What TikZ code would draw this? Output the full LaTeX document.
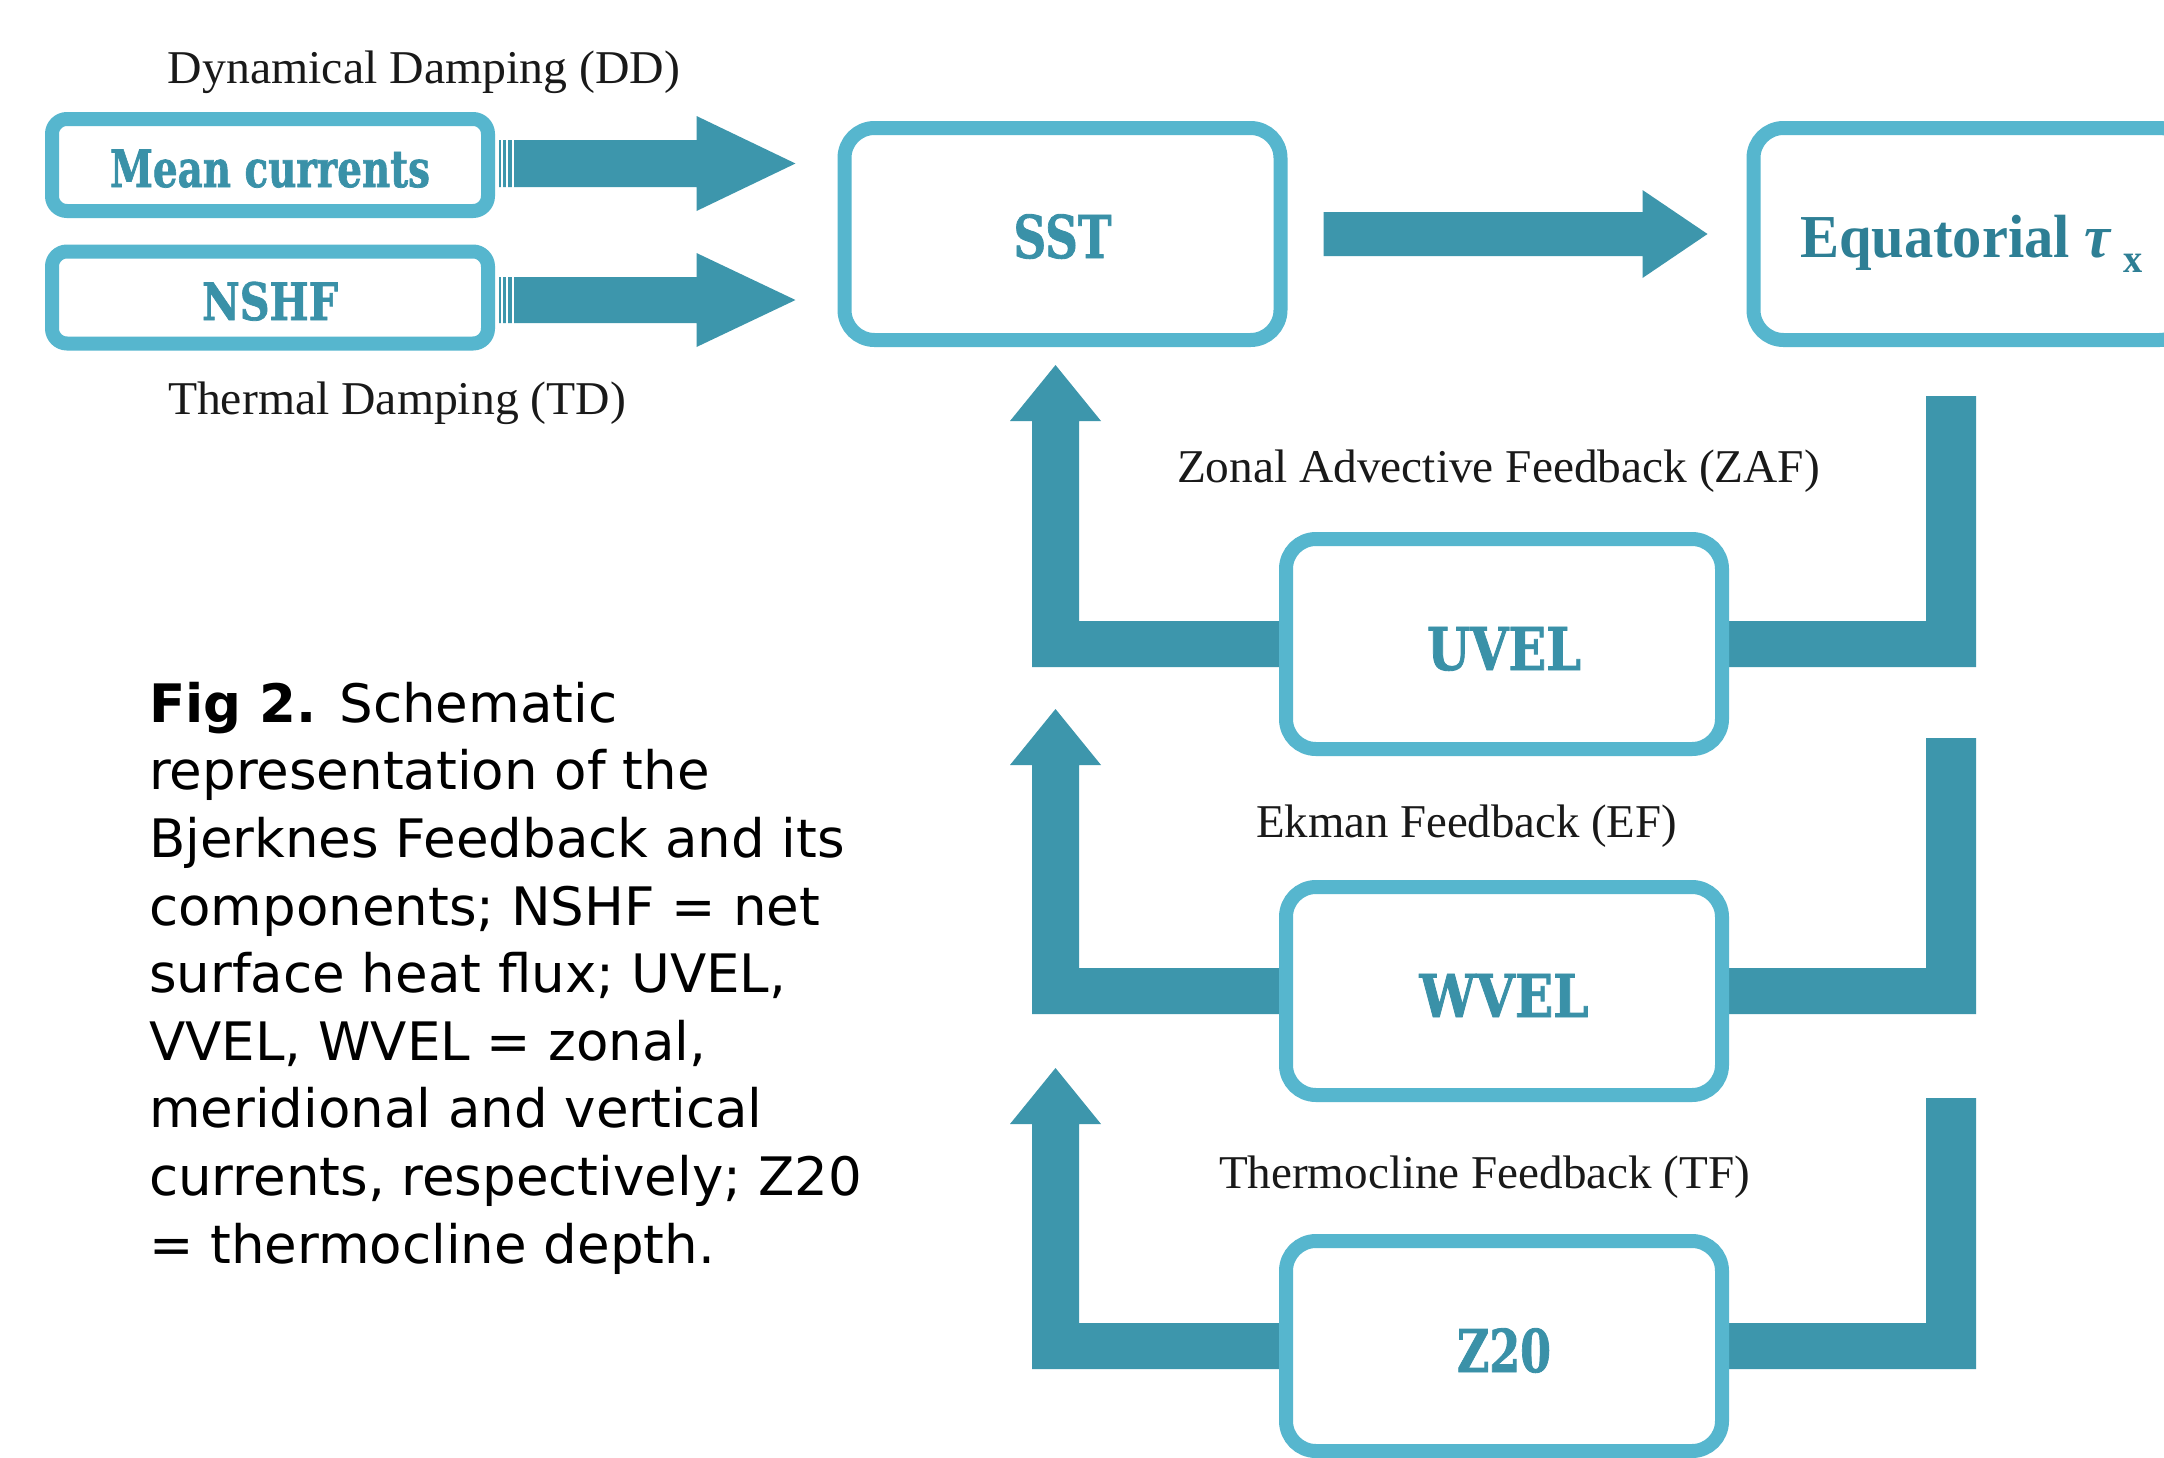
\documentclass[tikz,border=0pt]{standalone}
\usepackage{fontspec}
\usepackage{graphicx}
\setmainfont{Liberation Serif}
\newfontfamily\slabfont[BoldFeatures={FakeBold=1.5}]{DejaVu Serif}
\newfontfamily\capfont{DejaVu Sans}
\usetikzlibrary{calc}
\definecolor{boxcol}{RGB}{86,182,206}
\definecolor{arrowcol}{RGB}{61,150,172}
\definecolor{boxtext}{RGB}{58,145,168}
\definecolor{eqtext}{RGB}{46,127,149}
\definecolor{lbltext}{RGB}{25,25,25}
\pgfdeclarelayer{bg}
\pgfsetlayers{bg,main}
\newsavebox\fitbox
\newcommand\fitw[2]{\sbox\fitbox{#2}\pgfmathsetmacro\fitratio{#1/\the\wd\fitbox}\scalebox{\fitratio}[1]{\usebox\fitbox}}
% horizontal fat arrow: start, tip, half shaft, half head, head length
\newcommand\fatarrow[5]{\fill[arrowcol] ($(#1)+(0,-#3)$) -- ($(#2)+(-#5,-#3)$) -- ($(#2)+(-#5,-#4)$) -- (#2) -- ($(#2)+(-#5,#4)$) -- ($(#2)+(-#5,#3)$) -- ($(#1)+(0,#3)$) -- cycle;}
% left L-shaped up arrow from box to tip
\newcommand\loopL[2]{\fill[arrowcol] ($(#1.west)+(7,-23)$) -| ($(#2)+(23.5,56)$) -- ++(22,0) -- (#2) -- ($(#2)+(-45.5,56)$) -- ++(22,0) |- ($(#1.west)+(7,23)$) -- cycle;}
% right L-shaped bar from top point to box
\newcommand\loopR[2]{\fill[arrowcol] ($(#1.east)+(-7,-23)$) -| ($(#2)+(-25,0)$) -- ($(#2)+(25,0)$) |- ($(#1.east)+(-7,23)$) -- cycle;}
\begin{document}
\begin{tikzpicture}[x=1pt,y=-1pt,
  box/.style={draw=boxcol, line width=14pt, fill=white, inner sep=0pt, text depth=0pt},
  bigbox/.style={box, rounded corners=30pt, minimum width=436pt, minimum height=210pt,
    text=boxtext, font=\slabfont\bfseries\fontsize{59}{60}\selectfont},
  smallbox/.style={box, rounded corners=15pt, minimum width=436pt, minimum height=92pt,
    text=boxtext, font=\slabfont\bfseries\fontsize{51.5}{52}\selectfont},
  lbl/.style={anchor=base, inner sep=0pt, text=lbltext, font=\fontsize{47}{50}\selectfont},
  stripe/.style={white, line width=2pt}
]
\useasboundingbox (0,0) rectangle (2164,1457);

% boxes
\node[smallbox, text height=44pt] (mc) at (270,165) {\fitw{320}{Mean currents}};
\node[smallbox, text height=45pt] (ns) at (270,297.5) {\fitw{136}{NSHF}};
\node[bigbox, minimum height=212pt, text height=48pt] (sst) at (1062.5,234) {\fitw{98}{SST}};
\node[bigbox, minimum height=212pt, text height=46pt, text=eqtext,
      font=\bfseries\fontsize{61}{62}\selectfont] (eq) at (1971.5,234)
      {\fitw{343}{Equatorial {\itshape τ}\hspace{14pt}\raisebox{-15pt}{\fontsize{40}{40}\selectfont x}}};
\node[bigbox, text height=52pt] (uvel) at (1504,644) {\fitw{154}{UVEL}};
\node[bigbox, minimum height=208pt, text height=52pt] (wvel) at (1504,991) {\fitw{169}{WVEL}};
\node[bigbox, text height=52pt] (z20) at (1504,1346) {\fitw{94}{Z20}};

% labels
\node[lbl] (dd) at (424,83) {\fitw{512}{Dynamical Damping (DD)}};
\node[lbl] (td) at (397,414) {\fitw{458}{Thermal Damping (TD)}};
\node[lbl] (zaf) at (1498.5,482) {\fitw{643}{Zonal Advective Feedback (ZAF)}};
\node[lbl] (ef) at (1466.5,837) {\fitw{421}{Ekman Feedback (EF)}};
\node[lbl] (tf) at (1484.5,1188) {\fitw{531}{Thermocline Feedback (TF)}};

% caption (anchor on the baseline of its last line)
\node[anchor=base west, align=left, inner sep=0pt, text=black,
      font=\capfont\fontsize{53}{67.6}\selectfont] (cap) at (149,1263)
 {\textbf{Fig 2.} Schematic\\
  representation of the\\
  Bjerknes Feedback and its\\
  components; NSHF = net\\
  surface heat flux; UVEL,\\
  VVEL, WVEL = zonal,\\
  meridional and vertical\\
  currents, respectively; Z20\\
  = thermocline depth.};

% connector coordinates
\coordinate (a1s) at ($(mc.east)+(4,-1.5)$);
\coordinate (a1t) at ($(sst.west |- a1s)+(-42,0)$);
\coordinate (a2s) at ($(ns.east)+(4,2.5)$);
\coordinate (a2t) at ($(sst.west |- a2s)+(-42,0)$);
\coordinate (a3s) at ($(sst.east)+(36,0)$);
\coordinate (a3t) at ($(eq.west |- a3s)+(-39,0)$);
\coordinate (t1) at ($(sst.south)+(-7,18)$);
\coordinate (r1) at ($(eq.south)+(-20.5,49)$);
\coordinate (t2) at ($(t1 |- uvel.center)+(0,65)$);
\coordinate (r2) at ($(r1 |- uvel.center)+(0,94)$);
\coordinate (t3) at ($(t1 |- wvel.center)+(0,77)$);
\coordinate (r3) at ($(r1 |- wvel.center)+(0,107)$);

\begin{pgfonlayer}{bg}
  \fill[white] (0,0) rectangle (2164,1457);
  \fatarrow{a1s}{a1t}{23.5}{47.5}{99}
  \fatarrow{a2s}{a2t}{23}{47}{99}
  \fatarrow{a3s}{a3t}{22}{44}{65}
  \foreach \dx in {3,8.3,13.6}{
    \draw[stripe] ($(a1s)+(\dx,-25)$) -- ($(a1s)+(\dx,25)$);
    \draw[stripe] ($(a2s)+(\dx,-25)$) -- ($(a2s)+(\dx,25)$);
  }
  \loopL{uvel}{t1}
  \loopR{uvel}{r1}
  \loopL{wvel}{t2}
  \loopR{wvel}{r2}
  \loopL{z20}{t3}
  \loopR{z20}{r3}
\end{pgfonlayer}
\end{tikzpicture}
\end{document}
